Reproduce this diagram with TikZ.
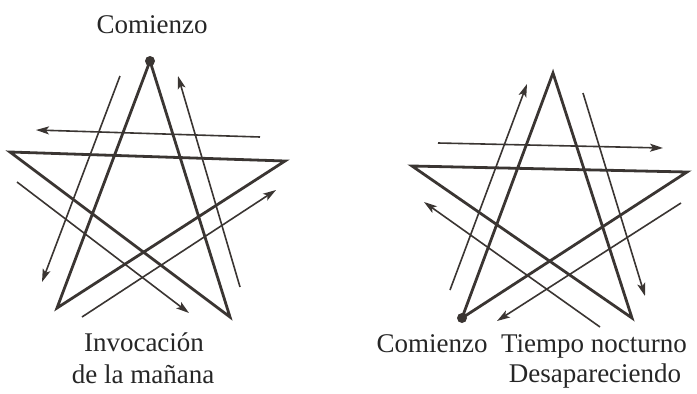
\documentclass[tikz,border=0pt]{standalone}
\usepackage{fontspec}
\setmainfont{Liberation Serif}
\usetikzlibrary{arrows.meta}
\definecolor{ink}{HTML}{3A3532}
\tikzset{
  starline/.style={draw=ink, line width=2.8pt, line join=miter},
  arrowline/.style={draw=ink, line width=1.6pt, -{Stealth[length=13pt,width=8pt,inset=3pt]}},
  startdot/.style={circle, fill=ink, inner sep=0pt, minimum size=10pt},
  lbl/.style={font=\fontsize{27}{31}\selectfont, text=black!85, inner sep=0pt, anchor=base}
}
\begin{document}
\begin{tikzpicture}[x=1pt,y=-1pt]
\useasboundingbox (0,0) rectangle (697,394);
% ---------- left star ----------
\coordinate (LT) at (150,61);
\coordinate (LL) at (10,152);
\coordinate (LR) at (285,161);
\coordinate (LBL) at (57,308);
\coordinate (LBR) at (230,317);
\draw[starline] (LT) -- (LBL) -- (LR) -- (LL) -- (LBR) -- cycle;
\node[startdot] (ldot) at (LT) {};
% arrows
\coordinate (la1s) at (120,76);  \coordinate (la1e) at (42,282);
\coordinate (la2s) at (260,137); \coordinate (la2e) at (36,130);
\coordinate (la3s) at (17,182);  \coordinate (la3e) at (189,313);
\coordinate (la4s) at (82,317);  \coordinate (la4e) at (276,190);
\coordinate (la5s) at (240,287); \coordinate (la5e) at (178,76);
\draw[arrowline] (la1s) -- (la1e);
\draw[arrowline] (la2s) -- (la2e);
\draw[arrowline] (la3s) -- (la3e);
\draw[arrowline] (la4s) -- (la4e);
\draw[arrowline] (la5s) -- (la5e);
\node[lbl] (lstart) at (152,33) {Comienzo};
\node[lbl] (linv) at (144,351) {Invocación};
\node[lbl] (lman) at (143,383) {de la mañana};
% ---------- right star ----------
\coordinate (RT) at (553,73);
\coordinate (RL) at (412,166);
\coordinate (RR) at (687,172);
\coordinate (RBL) at (462,318);
\coordinate (RBR) at (632,318);
\draw[starline] (RBL) -- (RT) -- (RBR) -- (RL) -- (RR) -- cycle;
\node[startdot] (rdot) at (RBL) {};
\coordinate (ra1s) at (450,290); \coordinate (ra1e) at (527,84);
\coordinate (ra2s) at (438,143); \coordinate (ra2e) at (663,148);
\coordinate (ra3s) at (583,93);  \coordinate (ra3e) at (645,296);
\coordinate (ra4s) at (600,327); \coordinate (ra4e) at (424,202);
\coordinate (ra5s) at (681,203); \coordinate (ra5e) at (497,321);
\draw[arrowline] (ra1s) -- (ra1e);
\draw[arrowline] (ra2s) -- (ra2e);
\draw[arrowline] (ra3s) -- (ra3e);
\draw[arrowline] (ra4s) -- (ra4e);
\draw[arrowline] (ra5s) -- (ra5e);
\node[lbl] (rstart) at (432,352) {Comienzo};
\node[lbl] (rtiempo) at (594,352) {Tiempo nocturno};
\node[lbl] (rdesap) at (595,382) {Desapareciendo};
\end{tikzpicture}
\end{document}
